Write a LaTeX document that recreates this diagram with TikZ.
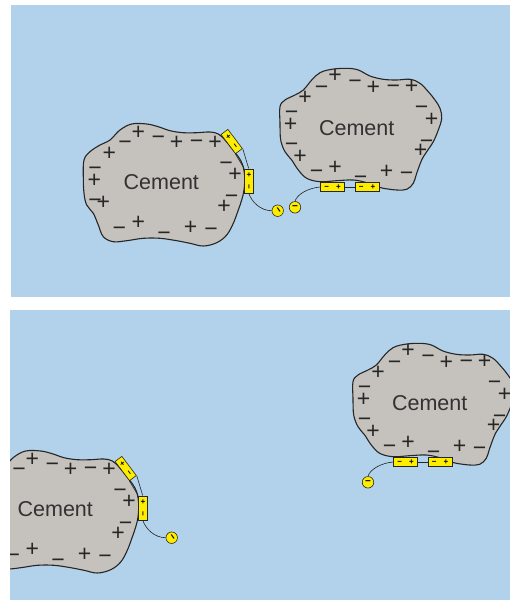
\documentclass[tikz,border=0pt]{standalone}
\usepackage{fontspec}
\setmainfont{Liberation Sans}
\definecolor{water}{RGB}{178,210,236}
\definecolor{cementgray}{RGB}{197,193,188}
\definecolor{ink}{RGB}{38,38,38}
\definecolor{labelink}{RGB}{50,50,50}
\definecolor{plyellow}{RGB}{255,237,0}
\tikzset{
  particle/.style={draw=ink, line width=1.1pt, fill=cementgray},
  chg/.style={font=\fontsize{23}{23}\selectfont, text=ink, inner sep=0pt,
              text height=16.3pt, text depth=0pt},
  cem/.style={font=\fontsize{21.5}{22}\selectfont, text=labelink, inner sep=0pt},
  pill/.style={draw=ink, fill=plyellow, line width=0.6pt, minimum width=24pt,
               minimum height=8.5pt, inner sep=0pt,
               font=\bfseries\fontsize{8}{8}\selectfont},
  bead/.style={circle, draw=ink, fill=plyellow, line width=0.6pt,
               minimum size=11.5pt, inner sep=0pt,
               font=\bfseries\fontsize{10}{10}\selectfont},
  chain/.style={draw=ink, line width=0.6pt}
}
% particle with two adsorbed molecules and a free bead
\newcommand\leftparticle[1]{%
  \draw[particle] plot[smooth cycle, tension=0.6] coordinates {
    (120,130) (131.7,124) (146.7,124) (158.3,126.7) (170,130.7) (183.3,132.7)
    (196.7,132.7) (210,132) (218.3,134) (225,140) (231.7,148.3) (238.3,156.7)
    (242.7,165) (244.7,176.7) (244,190) (241.7,200) (238.3,210) (233.3,223.3)
    (226.7,235) (216.7,242.7) (203.3,246) (190,243.3) (176.7,240.7)
    (160,238.3) (143.3,238.3) (126.7,240.7) (113.3,241.7) (103.3,236.7)
    (98.3,225) (93.3,213.3) (86.7,205) (84,193.3) (83.3,176.7) (84,160)
    (90,151.7) (100,145) (110,140)};
  \node[cem] (#1txt) at (161.3,181.7) {Cement};
  \foreach \x/\y/\s [count=\i] in {
    138.3/131/+, 158.3/136.7/−, 176.7/141.7/+, 196.7/140.7/−, 215/141/+,
    125/141/−, 109.3/152.7/+, 95/167.3/−, 94.3/179/+, 95/199.3/−,
    103.3/201.7/+, 119.3/227.3/−, 138.3/221/+, 164/232.7/−, 190.7/226.7/+,
    211/228.3/−, 226/162.7/−, 235/173.3/+, 231.7/195/−, 224/205.7/+}
    \node[chg] (#1q\i) at (\x,\y) {\s};
  \node[pill, rotate=-53] (#1t) at (231.7,141.5) {+\hspace{7pt}−};
  \node[pill, rotate=-90] (#1v) at (248.7,180.8) {+\hspace{7pt}−};
  \node[bead] (#1b) at (277.7,210.7) {\rotatebox{-55}{−}};
  \draw[chain] (#1t.south east) -- (#1v.south west);
  \draw[chain] (#1t.north east) -- (#1v.west);
  \draw[chain] (#1v.east) .. controls +(3,9) and +(-11,0) .. (#1b.west);
}
\newcommand\rightparticle[1]{%
  \draw[particle] plot[smooth cycle, tension=0.6] coordinates {
    (320,72.7) (331.7,69.3) (346.7,68.3) (358.3,70) (370,76) (383.3,79.3)
    (396.7,80) (410,79.3) (420,83.3) (428.3,91.7) (435,100) (440,108.3)
    (441.7,118.3) (438.3,130) (433.3,141.7) (426.7,151.7) (421.7,160)
    (416.7,173.3) (413.3,183.3) (406.7,189.3) (396.7,190) (383.3,188.3)
    (376.7,186.7) (366.7,182.7) (353.3,180) (336.7,180.7) (320,181.7)
    (306.7,178.3) (298.3,170) (291.7,160) (285,151.7) (280.7,140) (280,123.3)
    (280,106.7) (285,100) (295,95) (303.3,90) (311.7,80)};
  \node[cem] (#1txt) at (356.7,128.3) {Cement};
  \foreach \x/\y/\s [count=\i] in {
    335/74/+, 355/80.7/−, 373.3/86/+, 393.3/85/−, 411.7/85/+,
    321.7/86/−, 305/96.7/+, 291.7/111.7/−, 290.7/123.3/+, 291.7/143.3/−,
    300/155/+, 316.7/170/−, 335/166/+, 360.7/176.7/−, 386.7/170.7/+,
    406.7/172.3/−, 421.7/106.7/−, 431.7/118.3/+, 426.7/140/−, 420.7/149.3/+}
    \node[chg] (#1q\i) at (\x,\y) {\s};
  \node[pill] (#1h) at (332.5,187) {−\hspace{7pt}+};
  \node[pill] (#1k) at (367,187) {−\hspace{7pt}+};
  \node[bead] (#1b) at (295,207.3) {−};
  \draw[chain] (#1h.east) -- (#1k.west);
  \draw[chain] (#1h.west) .. controls +(-12,1) and +(2,-7) .. (#1b.north);
}
\begin{document}
\begin{tikzpicture}[x=1pt, y=-1pt]
  \useasboundingbox (0,0) rectangle (510,600);
  % upper panel: particles bridged
  \fill[water] (11,5) rectangle (510,297);
  \leftparticle{a}
  \rightparticle{b}
  % lower panel: particles apart
  \fill[water] (10,310) rectangle (510,600);
  \begin{scope}
    \clip (10,310) rectangle (510,600);
    \begin{scope}[shift={(-106,327)}]
      \leftparticle{c}
    \end{scope}
    \begin{scope}[shift={(73,275)}]
      \rightparticle{d}
    \end{scope}
  \end{scope}
\end{tikzpicture}
\end{document}
